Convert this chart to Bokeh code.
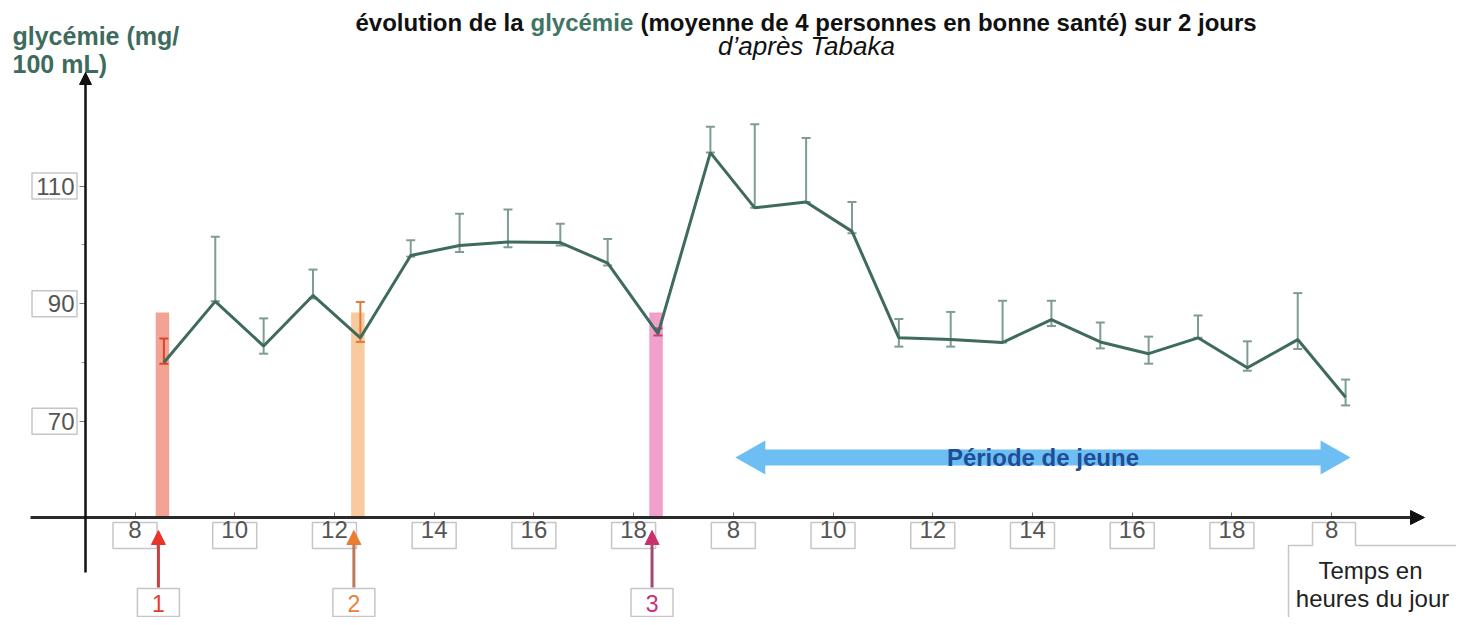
from bokeh.plotting import figure
from bokeh.models import Range1d, FixedTicker, Arrow, NormalHead
from bokeh.embed import file_html
from bokeh.resources import INLINE
from bokeh.core.properties import value

# ---------------- data ----------------
# x: hour slots on a compressed time axis (0 = 8 h day 1, 12 = 8 h day 2, 24 = 8 h day 3)
hour_slot = [0.58, 1.61, 2.58, 3.57, 4.52, 5.53, 6.51, 7.48, 8.53, 9.48, 10.49,
             11.54, 12.43, 13.46, 14.38, 15.32, 16.36, 17.40, 18.38, 19.36, 20.33,
             21.32, 22.31, 23.32, 24.28]
glycemie = [80.0, 90.4, 82.8, 91.4, 84.2, 98.2, 99.9, 100.5, 100.4, 96.9, 84.9,
            115.7, 106.3, 107.3, 102.3, 84.2, 83.9, 83.4, 87.3, 83.5, 81.5,
            84.2, 79.1, 83.9, 74.1]
err_high = [84.1, 101.4, 87.5, 95.8, 90.3, 100.8, 105.3, 106.0, 103.6, 101.0, 85.8,
            120.1, 120.5, 118.2, 107.3, 87.4, 88.6, 90.5, 90.5, 86.8, 84.4,
            88.0, 83.6, 91.8, 77.1]
err_low = [79.8, 90.4, 81.5, 90.9, 83.5, 98.0, 98.8, 99.6, 99.9, 96.5, 84.6,
           115.7, 106.3, 107.3, 102.0, 82.7, 82.7, 83.4, 86.2, 82.4, 79.8,
           84.2, 78.6, 82.3, 72.7]
tick_slots = [0, 2, 4, 6, 8, 10, 12, 14, 16, 18, 20, 22, 24]
tick_labels = ["8", "10", "12", "14", "16", "18", "8", "10", "12", "14", "16", "18", "8"]
y_ticks = [70, 90, 110]
y_minor_ticks = [80, 100]
meal_slots = [0.55, 4.47, 10.45]
meal_level = [88.5, 88.5, 88.5]
meal_labels = ["1", "2", "3"]
fasting_slots = [12.04, 24.38]
axis_level = 53.64
title_parts = ["évolution de la", "glycémie", "(moyenne de 4 personnes en bonne santé) sur 2 jours"]

# ---------------- styles ----------------
FONT = value("Liberation Sans")
LINE_C = "#3F6A5E"
ERR_C = "#7F9C94"
meal_fill = ["#F2A393", "#F9C9A0", "#F0A0CB"]
meal_head = ["#E8352B", "#EC7C32", "#C8306E"]
meal_shaft = ["#C44242", "#BC7A5A", "#A04A72"]
meal_text = ["#E83A30", "#E8803A", "#C8307A"]
err_colors = [ERR_C] * len(hour_slot)
err_colors[0] = "#D9452E"
err_colors[4] = "#E07B3A"
err_colors[10] = "#C04080"

# pixel helpers (picture pixel -> data units), used only for decorations
PX_X0, PX_PER_SLOT, PX_Y90, PX_PER_MG = 134.5, 49.86, 303.2, 5.88
def sx(ix):
    return (ix - PX_X0) / PX_PER_SLOT
def sy(iy):
    return 90 - (iy - PX_Y90) / PX_PER_MG
def dx(n):
    return n / PX_PER_SLOT
def dy(n):
    return n / PX_PER_MG

W, H = 1456, 617
p = figure(width=W, height=H, x_range=Range1d(sx(0), sx(W)), y_range=Range1d(sy(H), sy(0)),
           output_backend="svg", toolbar_location=None, min_border=0, title=None,
           outline_line_color=None)
p.grid.visible = False

# axes (fixed inside the frame)
xa = p.xaxis[0]
xa.fixed_location = axis_level
xa.ticker = FixedTicker(ticks=tick_slots)
xa.major_label_overrides = {t: l for t, l in zip(tick_slots, tick_labels)}
xa.axis_line_color = None
xa.major_tick_in = 5
xa.major_tick_out = 0
xa.major_tick_line_color = "#777777"
xa.minor_tick_line_color = None
xa.major_label_standoff = 4
xa.major_label_text_font = "Liberation Sans"
xa.major_label_text_font_size = "24px"
xa.major_label_text_color = "#555555"

ya = p.yaxis[0]
ya.fixed_location = sx(85)
ya.ticker = FixedTicker(ticks=y_ticks, minor_ticks=y_minor_ticks)
ya.axis_line_color = None
ya.major_tick_in = 0
ya.major_tick_out = 6
ya.minor_tick_in = 0
ya.minor_tick_out = 4
ya.major_tick_line_color = "#777777"
ya.minor_tick_line_color = "#999999"
ya.major_label_standoff = 5
ya.major_label_text_font = "Liberation Sans"
ya.major_label_text_font_size = "24px"
ya.major_label_text_color = "#555555"

# label boxes
p.rect(x=tick_slots[:-1], y=sy(535), width=44, height=26, width_units="screen", height_units="screen",
       fill_color="white", line_color="#C6C6C6", line_width=1.5)
p.rect(x=sx(54), y=y_ticks, width=45, height=26, width_units="screen", height_units="screen",
       fill_color="white", line_color="#C6C6C6", line_width=1.5)

# "Temps en heures du jour" box joined to the last tick label
box_px = [(1288, 640), (1288, 545), (1312, 545), (1312, 522), (1355, 522), (1355, 545), (1475, 545), (1475, 640)]
p.patch([sx(a) for a, b in box_px], [sy(b) for a, b in box_px], fill_color="white",
        line_color="#C6C6C6", line_width=1.5)
p.text(x=[sx(1370), sx(1372)], y=[sy(570), sy(598)], text=["Temps en", "heures du jour"],
       text_font=FONT, text_font_size="24px", text_color="#222222", text_align="center",
       text_baseline="alphabetic")

# meal bars
p.vbar(x=meal_slots, bottom=axis_level, top=meal_level, width=dx(13.5), fill_color=meal_fill, line_color=None)

# error bars
p.segment(x0=hour_slot, y0=err_low, x1=hour_slot, y1=err_high, line_color=err_colors, line_width=2)
p.scatter(x=hour_slot, y=err_high, marker="dash", size=9, line_color=err_colors, line_width=2)
p.scatter(x=hour_slot, y=err_low, marker="dash", size=9, line_color=err_colors, line_width=2)

# mean glycaemia line
p.line(hour_slot, glycemie, line_color=LINE_C, line_width=3)

# fasting period double arrow
x0, x1 = fasting_slots
fy = sy(457)
hl, hh, sh = dx(30), dy(17), dy(8)
p.patch([x0, x0 + hl, x0 + hl, x1 - hl, x1 - hl, x1, x1 - hl, x1 - hl, x0 + hl, x0 + hl],
        [fy, fy + hh, fy + sh, fy + sh, fy + hh, fy, fy - hh, fy - sh, fy - sh, fy - hh],
        fill_color="#6DBEF2", line_color=None)
p.text(x=[(x0 + x1) / 2], y=[fy], text=["Période de jeune"], text_font=FONT, text_font_style="bold",
       text_font_size="24px", text_color="#1F4E96", text_align="center", text_baseline="middle")

# meal arrows and numbered boxes
arrow_x = [m - dx(4) for m in meal_slots]
p.rect(x=arrow_x, y=sy(602), width=42, height=28, width_units="screen", height_units="screen",
       fill_color="white", line_color="#C6C6C6", line_width=1.5)
p.text(x=arrow_x, y=sy(603), text=meal_labels, text_font=FONT, text_font_size="23px",
       text_color=meal_text, text_align="center", text_baseline="middle")
for ax, hc, sc in zip(arrow_x, meal_head, meal_shaft):
    p.add_layout(Arrow(x_start=ax, y_start=sy(587), x_end=ax, y_end=sy(530), line_color=sc, line_width=3,
                       end=NormalHead(size=14, fill_color=hc, line_color=hc, line_width=1)))

# axis lines with arrowheads
p.add_layout(Arrow(x_start=sx(30), y_start=axis_level, x_end=sx(1424), y_end=axis_level,
                   line_color="#2A2A2A", line_width=3,
                   end=NormalHead(size=14, fill_color="#111111", line_color="#111111")))
p.add_layout(Arrow(x_start=sx(85), y_start=sy(572), x_end=sx(85), y_end=sy(72),
                   line_color="#111111", line_width=2.5,
                   end=NormalHead(size=12, fill_color="#111111", line_color="#111111")))

# y label
p.text(x=[sx(12), sx(12)], y=[sy(35), sy(63)], text=["glycémie (mg/", "100 mL)"], text_font=FONT,
       text_font_style="bold", text_font_size="25px", text_color="#3E6B5D", text_align="left",
       text_baseline="alphabetic")

# title and subtitle
p.text(x=[sx(523), sx(530), sx(640)], y=[sy(22)] * 3, text=title_parts, text_font=FONT,
       text_font_style="bold", text_font_size="24px", text_color=["#111111", "#3E7563", "#111111"],
       text_align=["right", "left", "left"], text_baseline="alphabetic")
p.text(x=[sx(806)], y=[sy(45)], text=["d’après Tabaka"], text_font=FONT, text_font_style="italic",
       text_font_size="26px", text_color="#111111", text_align="center", text_baseline="alphabetic")

open("out.html", "w").write(file_html(p, INLINE))
